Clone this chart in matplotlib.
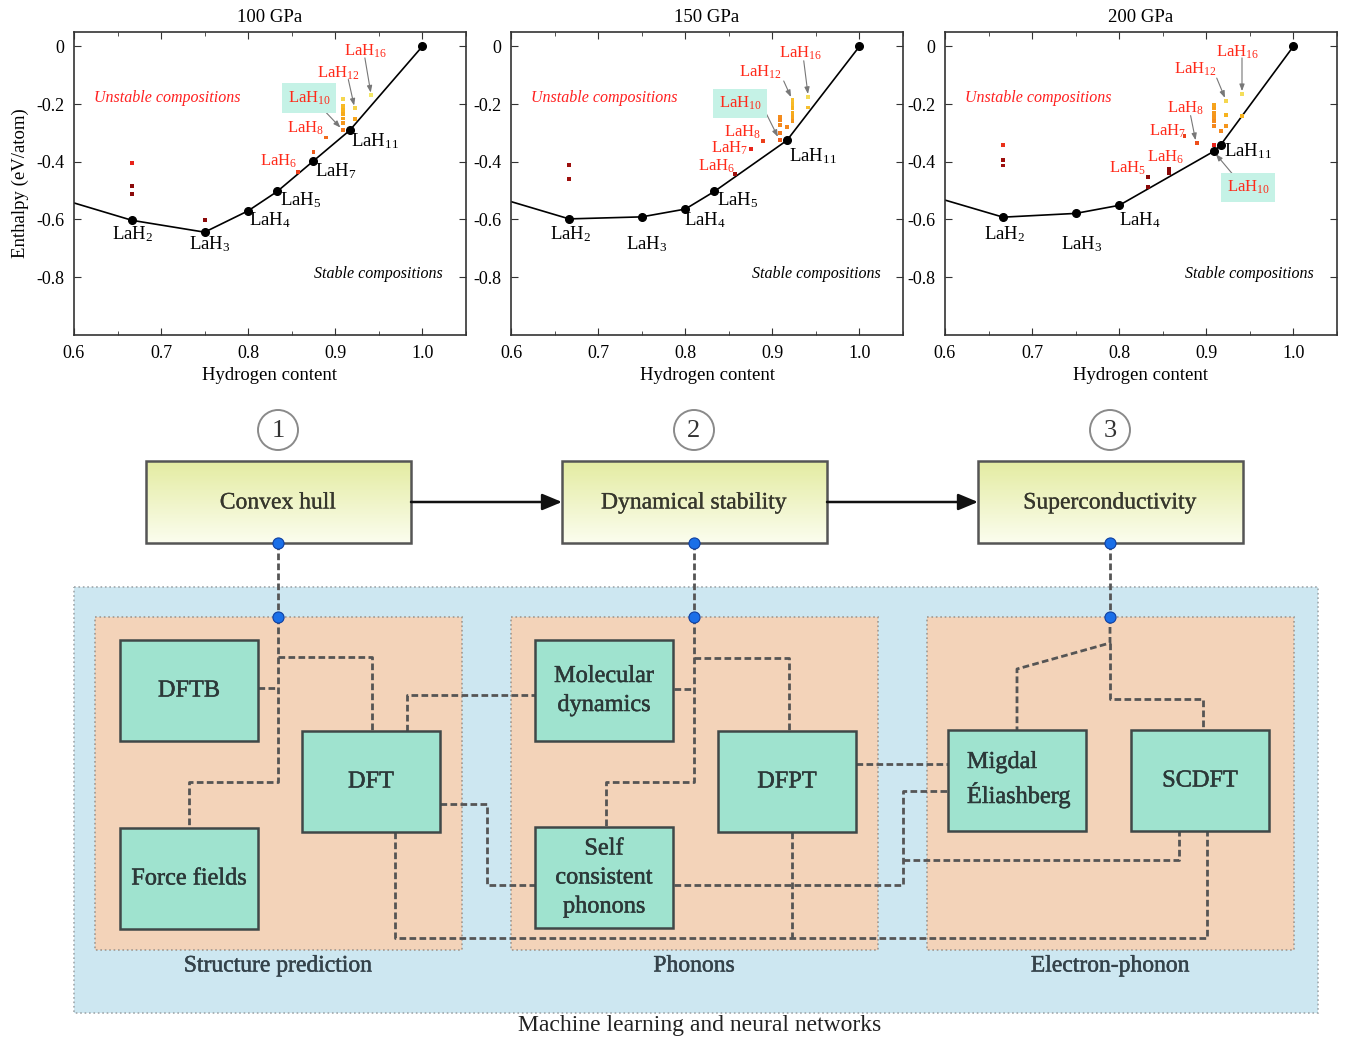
import numpy as np
import matplotlib.pyplot as plt
import matplotlib.patheffects as pe
from matplotlib.patches import Rectangle, Circle
from matplotlib.colors import LinearSegmentedColormap
from matplotlib.ticker import MultipleLocator, FuncFormatter

plt.rcParams['font.family'] = ['Liberation Serif', 'DejaVu Serif']
plt.rcParams['mathtext.fontset'] = 'custom'
plt.rcParams['mathtext.rm'] = 'Liberation Serif'
plt.rcParams['mathtext.it'] = 'Liberation Serif:italic'
plt.rcParams['mathtext.bf'] = 'Liberation Serif:bold'
plt.rcParams['axes.unicode_minus'] = False

pressures = ['100 GPa', '150 GPa', '200 GPa']

# convex hull: La, LaH2, LaH3, ... , H  (hydrogen fraction, eV/atom)
hull_x_100 = [0, 2/3, 3/4, 4/5, 5/6, 7/8, 11/12, 1.0]
hull_y_100 = [0, -0.603, -0.644, -0.570, -0.503, -0.397, -0.291, 0]
hull_x_150 = [0, 2/3, 3/4, 4/5, 5/6, 11/12, 1.0]
hull_y_150 = [0, -0.598, -0.591, -0.564, -0.503, -0.326, 0]
hull_x_200 = [0, 2/3, 3/4, 4/5, 10/11, 11/12, 1.0]
hull_y_200 = [0, -0.592, -0.579, -0.551, -0.363, -0.341, 0]

# structures above the hull; level 0 = far (dark red) ... 1 = close (yellow)
unst_x_100 = [2/3, 2/3, 2/3, 3/4, 6/7, 7/8, 8/9, 10/11, 10/11, 10/11, 10/11, 10/11, 10/11, 10/11, 12/13, 12/13, 16/17]
unst_y_100 = [-0.405, -0.483, -0.512, -0.601, -0.434, -0.366, -0.316, -0.289, -0.266, -0.250, -0.235, -0.220, -0.208, -0.183, -0.252, -0.215, -0.170]
unst_l_100 = [0.25, 0.0, 0.0, 0.0, 0.35, 0.45, 0.5, 0.55, 0.65, 0.7, 0.72, 0.75, 0.78, 0.9, 0.7, 0.88, 0.97]

unst_x_150 = [2/3, 2/3, 6/7, 7/8, 8/9, 10/11, 10/11, 10/11, 10/11, 10/11, 11/12, 12/13, 12/13, 12/13, 12/13, 12/13, 12/13, 16/17, 16/17]
unst_y_150 = [-0.410, -0.460, -0.442, -0.356, -0.327, -0.324, -0.300, -0.272, -0.255, -0.243, -0.281, -0.260, -0.245, -0.230, -0.215, -0.200, -0.187, -0.212, -0.177]
unst_l_150 = [0.05, 0.05, 0.05, 0.25, 0.35, 0.45, 0.55, 0.6, 0.6, 0.62, 0.6, 0.65, 0.7, 0.72, 0.75, 0.78, 0.8, 0.8, 0.92]

unst_x_200 = [2/3, 2/3, 2/3, 5/6, 5/6, 6/7, 6/7, 7/8, 8/9, 10/11, 10/11, 10/11, 10/11, 10/11, 10/11, 10/11, 11/12, 12/13, 12/13, 12/13, 16/17, 16/17]
unst_y_200 = [-0.343, -0.393, -0.413, -0.454, -0.489, -0.425, -0.439, -0.312, -0.335, -0.341, -0.277, -0.260, -0.245, -0.230, -0.215, -0.202, -0.292, -0.277, -0.237, -0.188, -0.240, -0.165]
unst_l_200 = [0.3, 0.05, 0.05, 0.0, 0.0, 0.0, 0.0, 0.35, 0.4, 0.25, 0.6, 0.62, 0.65, 0.66, 0.68, 0.7, 0.6, 0.65, 0.75, 0.9, 0.75, 0.93]

cmap = LinearSegmentedColormap.from_list(
    'hull', ['#8b0a0a', '#e8231a', '#f26a1c', '#f7b21c', '#f3ee70'])

fig = plt.figure(figsize=(13.45, 10.40), dpi=100)

# ---------------- diagram (pixel coordinates) ----------------
dg = fig.add_axes([0, 0, 1, 1])
dg.set_xlim(0, 1345)
dg.set_ylim(1040, 0)
dg.axis('off')
dg.patch.set_alpha(0)

txt_c = '#2c3838'
dash_c = '#555555'


def heavy(color, w=0.35):
    # slightly thicker strokes, between regular and bold
    return [pe.withStroke(linewidth=w, foreground=color)]


def dash(xs, ys):
    dg.plot(xs, ys, color=dash_c, lw=2.0, ls=(0, (2.4, 1.2)),
            solid_capstyle='butt', zorder=3)


dg.add_patch(Rectangle((74, 587), 1244, 426, fc='#cde7f1', ec='#a0a8ac',
                       lw=1.2, ls=':', zorder=1))
for x0, name in zip([95, 511, 927], ['Structure prediction', 'Phonons', 'Electron-phonon']):
    dg.add_patch(Rectangle((x0, 617), 367, 333, fc='#f3d3b9', ec='#a09890',
                           lw=1.2, ls=':', zorder=2))
    dg.text(x0 + 183, 966, name, ha='center', va='center', fontsize=17,
            color='#34424a', zorder=6, path_effects=heavy('#34424a'))
dg.text(700, 1026, 'Machine learning and neural networks', ha='center',
        va='center', fontsize=17, color='#222222')

# top stage boxes with gradient
grad = np.linspace(0, 1, 50).reshape(-1, 1)
gcmap = LinearSegmentedColormap.from_list('g', ['#e4eca2', '#fbfdee'])
stages = ['Convex hull', 'Dynamical stability', 'Superconductivity']
for i, (x0, name) in enumerate(zip([146, 562, 978], stages)):
    dg.imshow(grad, extent=[x0, x0 + 265, 543, 461], cmap=gcmap,
              aspect='auto', zorder=2)
    dg.add_patch(Rectangle((x0, 461), 265, 82, fc='none', ec='#555555',
                           lw=1.8, zorder=3))
    cx = x0 + 132
    dg.text(cx, 503, name, ha='center', va='center', fontsize=17, color='#36362c',
            path_effects=heavy('#36362c', 0.2))
    dg.add_patch(Circle((cx, 430), 20, fc='white', ec='#8a8a8a', lw=1.4, zorder=3))
    dg.text(cx, 431, str(i + 1), ha='center', va='center', fontsize=19, color='#333333')
    dash([cx, cx], [543, 617])
    dg.plot([cx, cx], [543, 617], ls='none', marker='o', ms=8,
            mfc='#1a6fe8', mec='#1040a0', mew=0.8, zorder=7)
for xa, xb in [(411, 562), (827, 978)]:
    dg.annotate('', xy=(xb, 502), xytext=(xa, 502),
                arrowprops=dict(arrowstyle='-|>,head_length=1.2,head_width=0.5',
                                color='#111111', lw=1.8, shrinkA=0, shrinkB=0))
dg.set_xlim(0, 1345)
dg.set_ylim(1040, 0)

# method boxes
methods = [(120, 640, 'DFTB'), (120, 828, 'Force fields'), (302, 731, 'DFT'),
           (535, 640, 'Molecular\ndynamics'), (535, 827, 'Self\nconsistent\nphonons'),
           (718, 731, 'DFPT'), (948, 730, None), (1131, 730, 'SCDFT')]
for x0, y0, name in methods:
    dg.add_patch(Rectangle((x0, y0), 138, 101, fc='#9fe3cf', ec='#404848',
                           lw=1.8, zorder=4))
    if name:
        dg.text(x0 + 69, y0 + 51, name, ha='center', va='center', fontsize=17.5,
                color=txt_c, linespacing=1.5, zorder=5, path_effects=heavy(txt_c))
dg.text(967, 780, 'Migdal\nÉliashberg', ha='left', va='center', fontsize=17.5,
        color=txt_c, linespacing=1.5, zorder=5, path_effects=heavy(txt_c))

# dashed links
dash([278, 278, 189, 189], [617, 782, 782, 828])
dash([258, 278], [688, 688])
dash([278, 372, 372], [657, 657, 731])
dash([407, 407, 535], [731, 695, 695])
dash([440, 487, 487, 535], [804, 804, 885, 885])
dash([395, 395, 1207, 1207], [832, 938, 938, 830])
dash([694, 694, 606, 606], [617, 782, 782, 827])
dash([674, 694], [689, 689])
dash([694, 789, 789], [658, 658, 731])
dash([856, 948], [764, 764])
dash([792, 792], [832, 938])
dash([674, 903, 903, 948], [885, 885, 791, 791])
dash([903, 1179, 1179], [860, 860, 830])
dash([1110, 1110, 1017, 1017], [617, 643, 669, 730])
dash([1110, 1110, 1203, 1203], [643, 699, 699, 730])


# ---------------- convex hull panels ----------------
def fmt(v, pos):
    return '0' if abs(v) < 1e-9 else f'{v:.1f}'


def panel(left, title, hx, hy, ux, uy, ul, black, red, arrows, ylabel=False):
    ax = fig.add_axes([left, 0.678, 0.2914, 0.2913])
    ax.plot(hx, hy, color='black', lw=1.2, zorder=2)
    ax.plot(hx[1:], hy[1:], ls='none', marker='o', ms=5.5, color='black', zorder=4)
    ax.scatter(ux, uy, c=ul, cmap=cmap, vmin=0, vmax=1, marker='s', s=8,
               linewidths=0, zorder=3)
    ax.set_xlim(0.6, 1.05)
    ax.set_ylim(-1.0, 0.05)
    ax.xaxis.set_major_locator(MultipleLocator(0.1))
    ax.xaxis.set_minor_locator(MultipleLocator(0.05))
    ax.set_yticks([0, -0.2, -0.4, -0.6, -0.8])
    ax.xaxis.set_major_formatter(FuncFormatter(fmt))
    ax.yaxis.set_major_formatter(FuncFormatter(fmt))
    ax.tick_params(which='both', direction='in', top=True, right=True,
                   labelsize=13, pad=7, length=5, color='#333333')
    ax.tick_params(which='minor', length=3)
    for s in ax.spines.values():
        s.set_linewidth(1.2)
        s.set_color('#333333')
    ax.set_title(title, fontsize=13.5, pad=7)
    ax.set_xlabel('Hydrogen content', fontsize=13.5, labelpad=4)
    if ylabel:
        ax.set_ylabel('Enthalpy (eV/atom)', fontsize=13.5, labelpad=5)
    ax.text(0.707, -0.179, 'Unstable compositions', color='#ff2020',
            style='italic', fontsize=11.5, ha='center', va='center')
    ax.text(0.950, -0.79, 'Stable compositions', color='black',
            style='italic', fontsize=11.5, ha='center', va='center')
    for s, x, y in black:
        ax.text(x, y, s, fontsize=13.5, ha='center', va='center', zorder=5)
    for s, x, y, box in red:
        kw = {}
        if box:
            kw['bbox'] = dict(boxstyle='square,pad=0.35', fc='#c5f2e6', ec='none')
        ax.text(x, y, s, fontsize=12, color='#ff2a1a', ha='center',
                va='center', zorder=5, **kw)
    for (xa, ya), (xb, yb) in arrows:
        ax.annotate('', xy=(xb, yb), xytext=(xa, ya),
                    arrowprops=dict(arrowstyle='-|>,head_length=0.4,head_width=0.15',
                                    color='#777777', lw=0.8, shrinkA=0, shrinkB=1))
    return ax


panel(0.055, pressures[0], hull_x_100, hull_y_100, unst_x_100, unst_y_100, unst_l_100,
      [('LaH$_2$', 0.667, -0.652), ('LaH$_3$', 0.756, -0.686), ('LaH$_4$', 0.825, -0.603),
       ('LaH$_5$', 0.860, -0.534), ('LaH$_7$', 0.901, -0.431), ('LaH$_{11}$', 0.946, -0.328)],
      [('LaH$_{16}$', 0.935, -0.017, False), ('LaH$_{12}$', 0.904, -0.093, False),
       ('LaH$_{10}$', 0.870, -0.179, True), ('LaH$_8$', 0.866, -0.283, False),
       ('LaH$_6$', 0.835, -0.397, False)],
      [((0.934, -0.04), (0.941, -0.165)), ((0.915, -0.115), (0.922, -0.21)),
       ((0.885, -0.215), (0.907, -0.285))],
      ylabel=True)

panel(0.380, pressures[1], hull_x_150, hull_y_150, unst_x_150, unst_y_150, unst_l_150,
      [('LaH$_2$', 0.668, -0.652), ('LaH$_3$', 0.756, -0.686), ('LaH$_4$', 0.823, -0.603),
       ('LaH$_5$', 0.860, -0.534), ('LaH$_{11}$', 0.946, -0.379)],
      [('LaH$_{16}$', 0.932, -0.024, False), ('LaH$_{12}$', 0.886, -0.090, False),
       ('LaH$_{10}$', 0.863, -0.197, True), ('LaH$_8$', 0.866, -0.297, False),
       ('LaH$_7$', 0.851, -0.355, False), ('LaH$_6$', 0.836, -0.414, False)],
      [((0.936, -0.05), (0.941, -0.17)), ((0.913, -0.12), (0.922, -0.18)),
       ((0.890, -0.215), (0.907, -0.318))])

panel(0.7026, pressures[2], hull_x_200, hull_y_200, unst_x_200, unst_y_200, unst_l_200,
      [('LaH$_2$', 0.669, -0.652), ('LaH$_3$', 0.757, -0.686), ('LaH$_4$', 0.824, -0.603),
       ('LaH$_{11}$', 0.948, -0.362)],
      [('LaH$_{16}$', 0.936, -0.020, False), ('LaH$_{12}$', 0.887, -0.079, False),
       ('LaH$_8$', 0.876, -0.214, False), ('LaH$_7$', 0.855, -0.293, False),
       ('LaH$_6$', 0.853, -0.383, False), ('LaH$_5$', 0.810, -0.424, False),
       ('LaH$_{10}$', 0.948, -0.490, True)],
      [((0.941, -0.04), (0.941, -0.16)), ((0.912, -0.11), (0.922, -0.183)),
       ((0.882, -0.24), (0.888, -0.33)), ((0.935, -0.46), (0.910, -0.37))])

fig.savefig('out.png', dpi=100)
